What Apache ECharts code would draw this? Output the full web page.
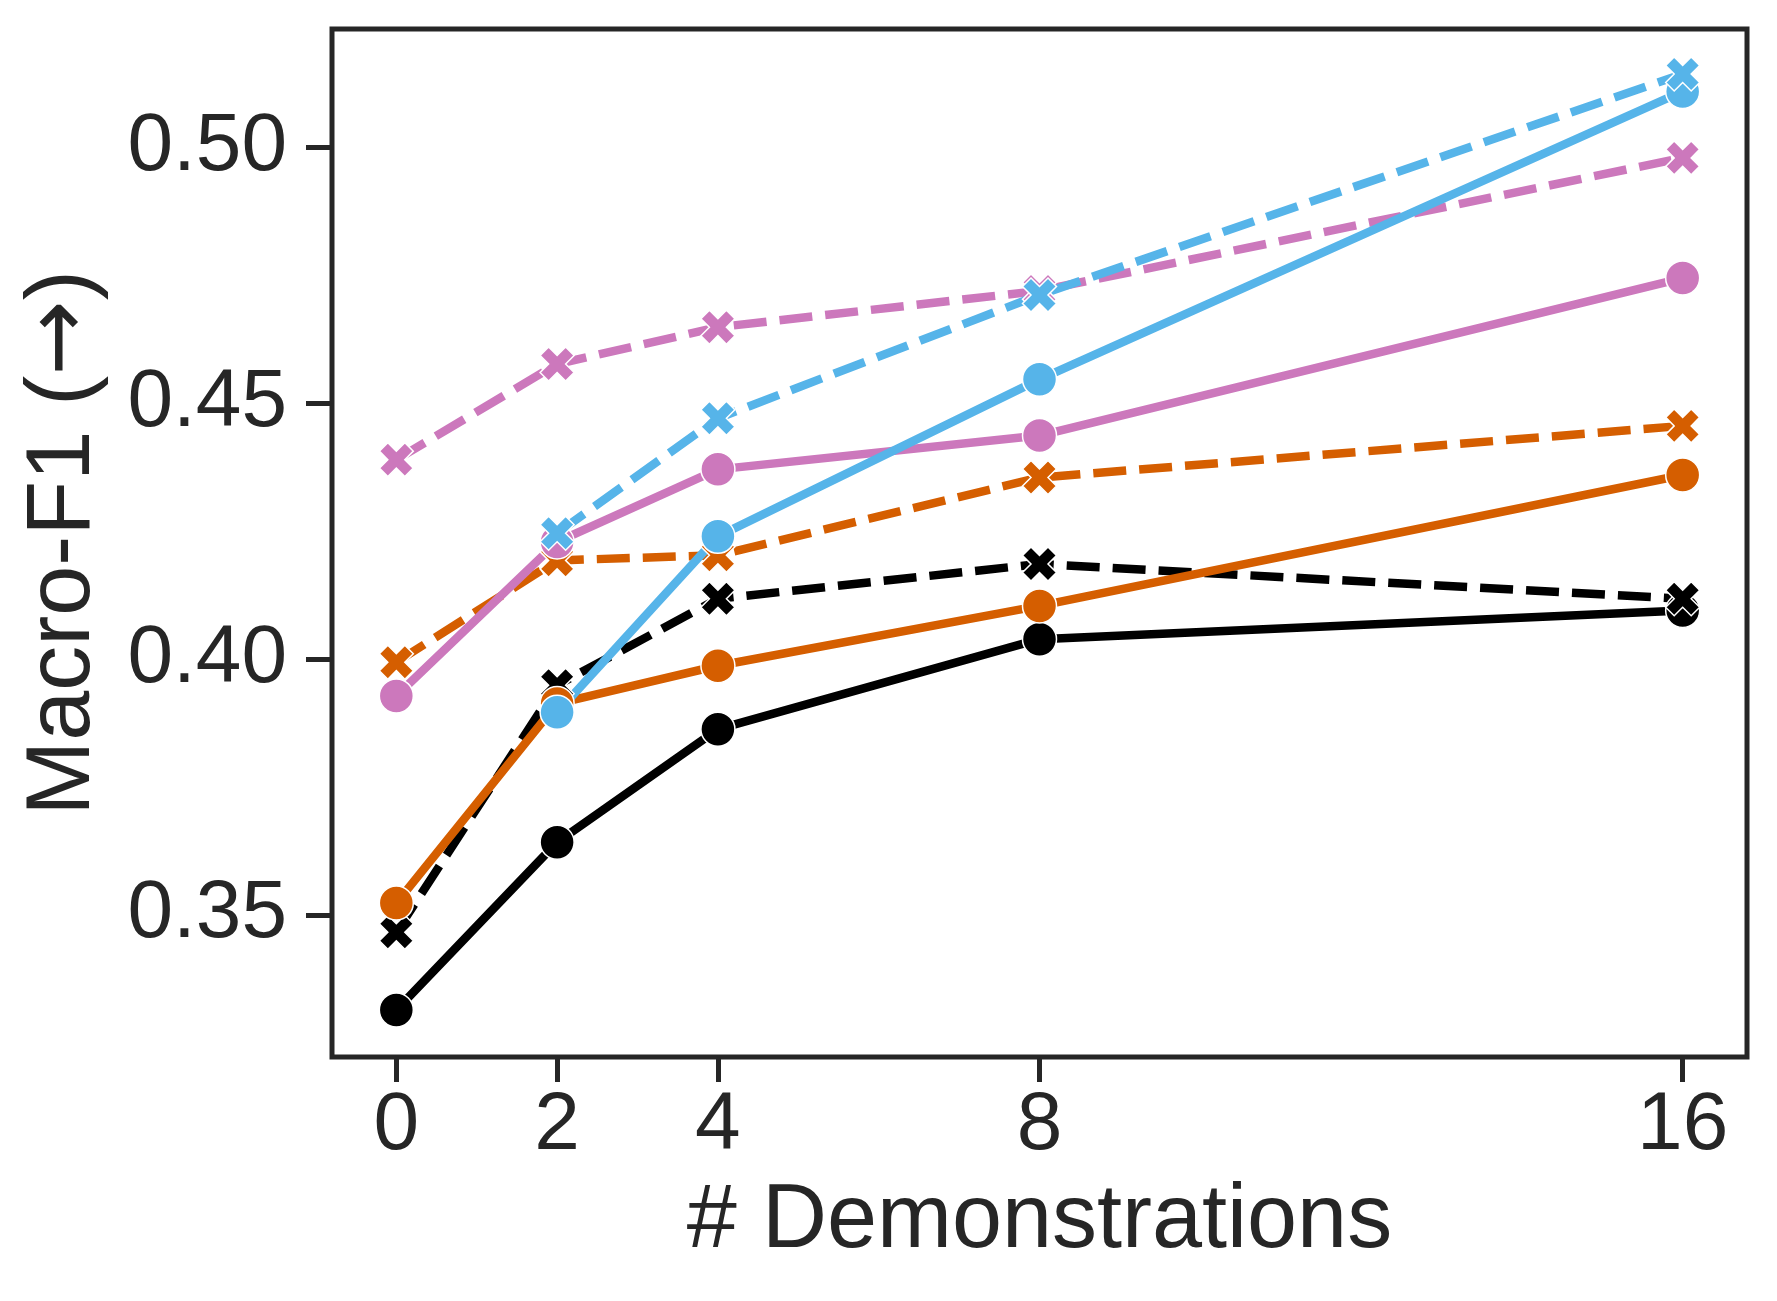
<!DOCTYPE html>
<html>
<head>
<meta charset="utf-8">
<script src="https://cdn.jsdelivr.net/npm/echarts@6/dist/echarts.min.js"></script>
<style>
html,body{margin:0;padding:0;background:#fff;}
#chart{width:1777px;height:1301px;}
</style>
</head>
<body>
<div id="chart"></div>
<script>
const demos = [0, 2, 4, 8, 16];
const xTicks = [0, 2, 4, 8, 16];
const yTicks = [0.35, 0.40, 0.45, 0.50];

const blackSolid   = [0.3314, 0.3642, 0.3863, 0.4039, 0.4095];
const blackDashed  = [0.3466, 0.3949, 0.4118, 0.4186, 0.4118];
const orangeSolid  = [0.3523, 0.3913, 0.3987, 0.4104, 0.4360];
const orangeDashed = [0.3994, 0.4193, 0.4203, 0.4355, 0.4456];
const pinkSolid    = [0.3928, 0.4229, 0.4371, 0.4437, 0.4745];
const pinkDashed   = [0.4390, 0.4577, 0.4649, 0.4720, 0.4980];
const blueSolid    = [null, 0.3896, 0.4240, 0.4547, 0.5110];
const blueDashed   = [null, 0.4246, 0.4471, 0.4712, 0.5144];

const BLACK = '#000000', ORANGE = '#D55E00', PINK = '#CC78BC', BLUE = '#56B4E9';
const TEXT = '#262626';
const FONT = '"Liberation Sans", Arial, sans-serif';
const X_PATH = 'path://M2 -4 L4 -2 L2 0 L4 2 L2 4 L0 2 L-2 4 L-4 2 L-2 0 L-4 -2 L-2 -4 L0 -2 Z';

function pairs(vals) {
  const out = [];
  demos.forEach((d, i) => { if (vals[i] !== null) out.push([d, vals[i]]); });
  return out;
}
function mk(name, vals, color, dashed) {
  return {
    name: name,
    type: 'line',
    data: pairs(vals),
    symbol: dashed ? X_PATH : 'circle',
    symbolSize: 34,
    showSymbol: true,
    animation: false,
    lineStyle: { color: color, width: 8.5, type: dashed ? [33, 13] : 'solid', cap: 'butt' },
    itemStyle: { color: color, borderColor: '#ffffff', borderWidth: 1.5, opacity: 1 },
    emphasis: { disabled: true }
  };
}

const chart = echarts.init(document.getElementById('chart'), null, { renderer: 'canvas' });
chart.setOption({
  backgroundColor: '#ffffff',
  animation: false,
  grid: {
    left: 332, right: 30, top: 29, bottom: 244,
    show: true, borderColor: TEXT, borderWidth: 5, backgroundColor: 'transparent'
  },
  xAxis: {
    type: 'value',
    position: 'bottom',
    min: -0.8, max: 16.8,
    name: '# Demonstrations',
    nameLocation: 'middle',
    nameGap: 120,
    nameTextStyle: { color: TEXT, fontSize: 90, fontFamily: FONT },
    axisLine: { show: false, onZero: false },
    splitLine: { show: false },
    axisTick: { show: true, inside: false, length: 25, lineStyle: { color: TEXT, width: 5 }, customValues: xTicks },
    axisLabel: { show: true, color: TEXT, fontSize: 82, fontFamily: FONT, margin: 28, customValues: xTicks,
      formatter: v => String(v) }
  },
  yAxis: {
    type: 'value',
    position: 'left',
    min: 0.3222, max: 0.5232,
    name: '{a|Macro-F1 (}{b|→}{a|)}',
    nameLocation: 'middle',
    nameGap: 223,
    nameTextStyle: { color: TEXT, fontSize: 90, fontFamily: FONT,
      rich: {
        a: { color: TEXT, fontSize: 90, fontFamily: FONT },
        b: { color: TEXT, fontSize: 90, fontFamily: '"DejaVu Sans", sans-serif' }
      } },
    axisLine: { show: false, onZero: false },
    splitLine: { show: false },
    axisTick: { show: true, inside: false, length: 26, lineStyle: { color: TEXT, width: 5 }, customValues: yTicks },
    axisLabel: { show: true, color: TEXT, fontSize: 82, fontFamily: FONT, margin: 45, customValues: yTicks,
      formatter: v => Number(v).toFixed(2) }
  },
  series: [
    mk('black solid', blackSolid, BLACK, false),
    mk('black dashed', blackDashed, BLACK, true),
    mk('orange solid', orangeSolid, ORANGE, false),
    mk('orange dashed', orangeDashed, ORANGE, true),
    mk('pink solid', pinkSolid, PINK, false),
    mk('pink dashed', pinkDashed, PINK, true),
    mk('blue solid', blueSolid, BLUE, false),
    mk('blue dashed', blueDashed, BLUE, true)
  ]
});
</script>
</body>
</html>
